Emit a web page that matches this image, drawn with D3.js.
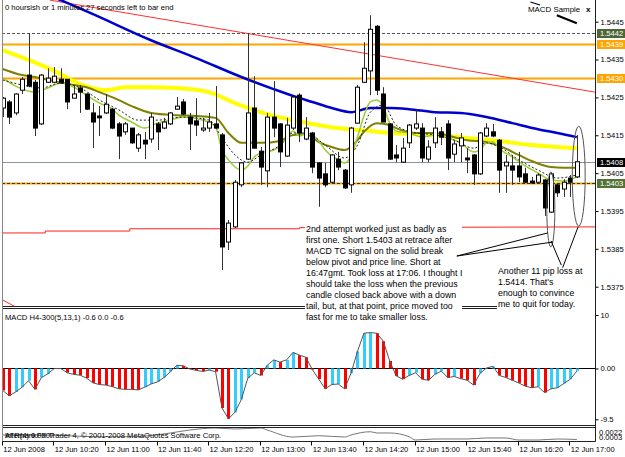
<!DOCTYPE html>
<html>
<head>
<meta charset="utf-8">
<script src="https://cdn.jsdelivr.net/npm/d3@7"></script>
<style>
  body { margin: 0; background: #fff; }
  text { font-family: "Liberation Sans", Arial, sans-serif; }
</style>
</head>
<body>
<svg id="chart" width="625" height="457"></svg>
<script>
// M5 bars, 12 Jun 09:40 .. 17:05, [open, high, low, close]
const candles = [
  [1.54222,1.54251,1.54198,1.54248],[1.54238,1.54243,1.54180,1.54198],[1.54209,1.54261,1.54203,1.54259],
  [1.54269,1.54304,1.54259,1.54298],[1.54309,1.54420,1.54277,1.54280],[1.54290,1.54296,1.54148,1.54169],
  [1.54180,1.54312,1.54177,1.54309],[1.54290,1.54327,1.54288,1.54301],[1.54290,1.54330,1.54288,1.54306],
  [1.54298,1.54327,1.54288,1.54288],[1.54298,1.54298,1.54219,1.54238],[1.54248,1.54283,1.54248,1.54259],
  [1.54275,1.54283,1.54209,1.54264],[1.54259,1.54261,1.54217,1.54219],[1.54209,1.54235,1.54116,1.54185],
  [1.54201,1.54227,1.54148,1.54196],[1.54209,1.54259,1.54206,1.54232],[1.54219,1.54222,1.54166,1.54169],
  [1.54180,1.54185,1.54087,1.54148],[1.54159,1.54185,1.54151,1.54180],[1.54169,1.54169,1.54127,1.54130],
  [1.54116,1.54156,1.54106,1.54151],[1.54137,1.54159,1.54087,1.54127],[1.54140,1.54209,1.54130,1.54198],
  [1.54180,1.54185,1.54111,1.54159],[1.54169,1.54196,1.54166,1.54185],[1.54180,1.54211,1.54177,1.54209],
  [1.54219,1.54251,1.54217,1.54227],[1.54238,1.54246,1.54203,1.54206],[1.54198,1.54209,1.54111,1.54180],
  [1.54188,1.54248,1.54148,1.54177],[1.54164,1.54196,1.54159,1.54169],[1.54169,1.54209,1.54159,1.54185],
  [1.54180,1.54280,1.54169,1.54169],[1.54151,1.54156,1.53794,1.53855],[1.53868,1.53926,1.53847,1.53918],
  [1.53908,1.54032,1.53905,1.54026],[1.54019,1.54079,1.54013,1.54077],[1.54087,1.54420,1.54085,1.54209],
  [1.54222,1.54306,1.54114,1.54116],[1.54108,1.54119,1.54019,1.54066],[1.54056,1.54209,1.54013,1.54198],
  [1.54198,1.54293,1.54145,1.54169],[1.54180,1.54182,1.54066,1.54106],[1.54095,1.54196,1.54093,1.54177],
  [1.54169,1.54254,1.54164,1.54251],[1.54256,1.54261,1.54132,1.54156],[1.54140,1.54198,1.54137,1.54169],
  [1.54156,1.54159,1.54050,1.54066],[1.54077,1.54079,1.53961,1.54037],[1.54048,1.54077,1.54013,1.54019],
  [1.54026,1.54100,1.54024,1.54098],[1.54087,1.54106,1.54058,1.54066],[1.54058,1.54061,1.54008,1.54011],
  [1.54019,1.54172,1.53998,1.54169],[1.54182,1.54283,1.54180,1.54277],[1.54290,1.54396,1.54288,1.54327],
  [1.54320,1.54467,1.54256,1.54430],[1.54438,1.54441,1.54256,1.54269],[1.54259,1.54277,1.54185,1.54185],
  [1.54180,1.54182,1.54085,1.54087],[1.54098,1.54124,1.54079,1.54090],[1.54079,1.54143,1.54077,1.54116],
  [1.54130,1.54180,1.54116,1.54177],[1.54169,1.54217,1.54164,1.54180],[1.54169,1.54182,1.54079,1.54090],
  [1.54087,1.54137,1.54079,1.54119],[1.54130,1.54198,1.54116,1.54169],[1.54159,1.54172,1.54124,1.54145],
  [1.54180,1.54190,1.54058,1.54090],[1.54100,1.54137,1.54079,1.54127],[1.54122,1.54156,1.54079,1.54143],
  [1.54090,1.54116,1.54050,1.54085],[1.54098,1.54100,1.54019,1.54048],[1.54048,1.54159,1.54045,1.54156],
  [1.54148,1.54182,1.54145,1.54169],[1.54159,1.54180,1.54145,1.54148],[1.54137,1.54140,1.53998,1.54058],
  [1.54069,1.54098,1.53998,1.54079],[1.54069,1.54098,1.54019,1.54058],[1.54069,1.54106,1.54026,1.54040],
  [1.54048,1.54064,1.54024,1.54026],[1.54029,1.54040,1.54021,1.54024],[1.54026,1.54050,1.54024,1.54045],
  [1.54032,1.54034,1.53937,1.53958],[1.53947,1.54053,1.53945,1.54048],[1.54019,1.54024,1.53987,1.53998],
  [1.54008,1.54034,1.53987,1.54026],[1.54037,1.54045,1.53987,1.54026],[1.54040,1.54151,1.54037,1.54080]
];

// moving averages, [bar, price]
const maBlue = [[0,1.5457],[9,1.54507],[14,1.5447],[23,1.54401],[30,1.54354],[37,1.54304],[42,1.54272],
  [45,1.54254],[48,1.54238],[51,1.54222],[54,1.54211],[57,1.54222],[60,1.54222],[63,1.54219],[67,1.54211],
  [71,1.54209],[75,1.54198],[79,1.54182],[83,1.54166],[86,1.54156],[89,1.54145]];
const maYellow = [[0,1.54375],[4,1.54349],[8,1.5432],[12,1.54285],[16,1.54269],[19,1.54277],[23,1.54277],
  [27,1.54275],[32,1.54264],[36,1.54235],[41,1.54206],[45,1.5419],[48,1.5418],[52,1.54169],[57,1.54161],
  [60,1.54156],[67,1.54151],[72,1.54143],[77,1.54135],[82,1.54124],[86,1.54119],[89,1.54116]];
const maOlive = [[0,1.54325],[3,1.54309],[5,1.54304],[8,1.54293],[11,1.54283],[13,1.54277],[15,1.54264],
  [18,1.54243],[20,1.54227],[23,1.54209],[27,1.54203],[30,1.54201],[33,1.54196],[35,1.54156],[37,1.5413],
  [40,1.5413],[43,1.54135],[45,1.54151],[47,1.54153],[49,1.54132],[51,1.54119],[53,1.54111],[55,1.54137],
  [56,1.54159],[58,1.54182],[60,1.54177],[61,1.54169],[64,1.54156],[67,1.54156],[70,1.54145],[72,1.54137],
  [75,1.54132],[77,1.54122],[80,1.54098],[82,1.54082],[85,1.54066],[87,1.54064],[89,1.54064]];
const maGreen = [[0,1.54301],[2,1.5428],[5,1.54264],[7,1.54275],[9,1.54288],[11,1.54277],[13,1.54256],
  [15,1.54235],[17,1.54219],[18,1.54203],[20,1.54185],[22,1.54169],[24,1.54182],[26,1.5419],[28,1.54198],
  [31,1.5419],[33,1.54172],[34,1.54111],[35,1.54085],[37,1.54058],[38,1.54069],[39,1.54093],[40,1.54103],
  [42,1.54111],[43,1.54122],[44,1.54143],[45,1.54161],[46,1.54148],[47,1.54156],[49,1.54135],[50,1.54111],
  [52,1.54085],[53,1.54077],[54,1.54095],[55,1.54145],[56,1.54201],[57,1.54238],[58,1.54243],[59,1.54225],
  [60,1.54182],[61,1.54161],[63,1.54156],[65,1.54145],[67,1.54151],[69,1.54143],[71,1.5413],[73,1.54106],
  [74,1.54111],[75,1.5413],[76,1.54132],[77,1.54114],[79,1.54093],[81,1.54069],[83,1.5405],[85,1.54032],
  [87,1.54029],[89,1.5404]];
const maDashed = [[0,1.54296],[3,1.54283],[6,1.54275],[9,1.54288],[12,1.54275],[15,1.54243],[18,1.54217],
  [21,1.5419],[24,1.5419],[28,1.54198],[32,1.5419],[34,1.54143],[36,1.54098],[38,1.54079],[40,1.54098],
  [43,1.54124],[45,1.54156],[47,1.54156],[50,1.54124],[53,1.5409],[55,1.54124],[57,1.54211],[59,1.5423],
  [61,1.54177],[64,1.54156],[67,1.54151],[70,1.54137],[73,1.54116],[75,1.5413],[77,1.54119],[80,1.54085],
  [83,1.54058],[86,1.54037],[89,1.54045]];

// horizontal price levels
const levelPrices = [1.5442, 1.5439, 1.5430, 1.5408, 1.54024];
const levelLabels = ['1.5442', '1.5439', '1.5430', '1.5408', '1.5403'];
const levelKinds  = ['dash', 'orange', 'orange', 'bid', 'orangeDash'];
const levelBoxes  = ['#4e6536', '#ffa500', '#ffa500', '#000000', '#557236'];

// drawn lines, [bar, price]
const trendRed = [[7.3,1.54507],[91.8,1.54264]];
const trendRedLow = [[0,1.53715],[4,1.53678]];
const pivotRed = [[0,1.53892],[6.6,1.53892],[6.6,1.53897],[19.7,1.53897],[19.7,1.53903],[46,1.53903],
  [46,1.53906],[92,1.53908]];
const sampleMarks = [[[81.8,1.54502],[83.3,1.54494]], [[85.9,1.54467],[89.0,1.54446]]];
const ellipses = [[84.35,85.6,1.53855,1.54053],[88.3,90.3,1.5391,1.54174]];
const arrows = [[[70.4,1.53831],[84.5,1.53892]], [[70.4,1.53831],[85.3,1.53868]],
  [[86.6,1.53807],[85.0,1.53871]], [[86.8,1.53800],[89.2,1.53908]]];

// MACD histogram values
const macd = [-4.1,-5.1,-4.4,-3.5,-2.3,-3.9,-1.7,-1.0,0.0,0.0,
  -0.8,-1.1,-1.25,-1.8,-2.7,-3.0,-3.1,-3.4,-3.8,-3.9,
  -3.9,-4.0,-3.5,-2.9,-2.5,-1.7,-0.6,0.6,0.5,-0.1,
  -0.35,-0.55,-0.3,-0.6,-7.4,-9.4,-8.2,-5.8,-1.8,-0.8,
  -1.3,0.6,1.6,1.2,1.6,3.0,2.5,2.1,-0.2,-2.0,
  -3.8,-3.0,-2.9,-3.8,-0.9,3.2,6.6,6.7,6.6,5.1,
  1.4,-1.4,-2.0,-1.3,-0.8,-2.0,-2.2,-1.1,-0.5,-1.7,
  -1.5,-1.9,-2.2,-3.1,-0.9,0.1,0.4,-1.3,-1.7,-2.2,
  -2.7,-3.3,-3.6,-3.4,-4.5,-3.8,-3.6,-2.8,-2.0,-0.5];

// third window indicator, [bar, value]
const atr = [[0,0.00109],[6,0.00109],[15,0.00082],[20,0.00082],[26,0.00141],[29,0.00188],[33,0.0022],
  [36,0.00204],[40,0.0022],[41,0.00188],[45,0.00077],[49,0.00098],[53,0.00077],[54,0.00109],[57,0.00161],
  [58,0.00141],[60,0.00141],[63,0.00082],[64,0.0003],[67,0.00046],[72,0.00046],[75,0.00062],[78,0.00062],
  [80,0.0003],[83,0.0003],[86,0.00046],[89,0.00038]];

const priceTicks = [1.5445, 1.5435, 1.5425, 1.5415, 1.5405, 1.5395, 1.5385, 1.5375];
const macdTicks = [10, 0, -9.5];
const macdTickText = ['10', '0.00', '-9.5'];
const atrTicks = [0.0022, 0.0003];
const timeBars = [0, 8, 16, 24, 32, 40, 48, 56, 64, 72, 80, 88];
const timeLabels = ['12 Jun 2008', '12 Jun 10:20', '12 Jun 11:00', '12 Jun 11:40', '12 Jun 12:20',
  '12 Jun 13:00', '12 Jun 13:40', '12 Jun 14:20', '12 Jun 15:00', '12 Jun 15:40', '12 Jun 16:20',
  '12 Jun 17:00'];

const note1 = ['2nd attempt worked just as badly as', 'first one.  Short 1.5403 at retrace after',
  'MACD TC signal on the solid break', 'below pivot and price line. Short at',
  '16:47gmt. Took loss at 17:06. I thought I', 'should take the loss when the previous',
  'candle closed back above with a down', 'tail, but, at that point, price moved too',
  'fast for me to take smaller loss.'];
const note2 = ['Another 11 pip loss at', '1.5414.  That\'s', 'enough to convince', 'me to quit for today.'];

const svg = d3.select('#chart');
const uiFont = 7.6;

const x = d3.scaleLinear().domain([0, 89]).range([2.7, 576.8]);
const y = d3.scaleLinear().domain([1.5375, 1.5445]).range([286.7, 21.7]);
const yM = d3.scaleLinear().domain([-9.5, 10]).range([419.3, 315]);
const yA = d3.scaleLinear().domain([0.0003, 0.0022]).range([440, 428]);

const defs = svg.append('defs');
defs.append('clipPath').attr('id', 'clipPrice')
    .append('rect').attr('x', 2).attr('y', 0).attr('width', 593).attr('height', 306);
defs.append('clipPath').attr('id', 'clipMacd')
    .append('rect').attr('x', 2).attr('y', 309).attr('width', 593).attr('height', 116);
defs.append('clipPath').attr('id', 'clipAtr')
    .append('rect').attr('x', 2).attr('y', 427).attr('width', 623).attr('height', 14);

const price = svg.append('g').attr('clip-path', 'url(#clipPrice)');

// levels
levelPrices.forEach((p, k) => {
  const kind = levelKinds[k];
  const yy = Math.round(y(p)) + 0.5;
  if (kind === 'orange' || kind === 'orangeDash') {
    price.append('line').attr('x1', 2).attr('x2', 595).attr('y1', yy).attr('y2', yy)
         .attr('stroke', '#ffa500').attr('stroke-width', 2);
  }
  if (kind === 'dash' || kind === 'orangeDash') {
    price.append('line').attr('x1', 2).attr('x2', 595).attr('y1', yy).attr('y2', yy)
         .attr('stroke', kind === 'dash' ? '#555' : '#333').attr('stroke-width', 1)
         .attr('stroke-dasharray', '3,2');
  }
  if (kind === 'bid') {
    price.append('line').attr('x1', 2).attr('x2', 595).attr('y1', yy).attr('y2', yy)
         .attr('stroke', '#8a95a0').attr('stroke-width', 1);
  }
});

const pline = d3.line().x(d => x(d[0])).y(d => y(d[1]));
const smooth = d3.line().x(d => x(d[0])).y(d => y(d[1])).curve(d3.curveMonotoneX);

price.append('path').attr('d', pline(trendRed)).attr('fill', 'none').attr('stroke', '#ff3030').attr('stroke-width', 1);
price.append('path').attr('d', pline(trendRedLow)).attr('fill', 'none').attr('stroke', '#ff3030').attr('stroke-width', 1);
price.append('path').attr('d', pline(pivotRed)).attr('fill', 'none').attr('stroke', '#ff2020').attr('stroke-width', 1);

// moving averages
price.append('path').attr('d', smooth(maYellow)).attr('fill', 'none').attr('stroke', '#ffff00').attr('stroke-width', 4);
price.append('path').attr('d', smooth(maBlue)).attr('fill', 'none').attr('stroke', '#0000cd').attr('stroke-width', 2.5);
price.append('path').attr('d', smooth(maOlive)).attr('fill', 'none').attr('stroke', '#808000').attr('stroke-width', 2);
price.append('path').attr('d', smooth(maGreen)).attr('fill', 'none').attr('stroke', '#9acd32').attr('stroke-width', 1.5);
price.append('path').attr('d', smooth(maDashed)).attr('fill', 'none').attr('stroke', '#222').attr('stroke-width', 1)
     .attr('stroke-dasharray', '2,2');

// candles
const candle = price.selectAll('.candle').data(candles).enter()
  .append('g').attr('class', 'candle');
candle.append('line')
  .attr('x1', (d, i) => Math.round(x(i)) + 0.5).attr('x2', (d, i) => Math.round(x(i)) + 0.5)
  .attr('y1', d => y(d[1])).attr('y2', d => y(d[2]))
  .attr('stroke', '#333').attr('stroke-width', 1);
candle.append('rect')
  .attr('x', (d, i) => Math.round(x(i)) - 1.5)
  .attr('width', 4)
  .attr('y', d => y(Math.max(d[0], d[3])))
  .attr('height', d => Math.max(1, y(Math.min(d[0], d[3])) - y(Math.max(d[0], d[3]))))
  .attr('fill', d => d[3] >= d[0] ? '#fff' : '#000')
  .attr('stroke', '#000').attr('stroke-width', 1);

// drawn objects
sampleMarks.forEach((m, k) => {
  svg.append('path').attr('d', pline(m)).attr('stroke', '#000').attr('stroke-width', k ? 2 : 1.2);
});
ellipses.forEach(e => {
  const cx = (x(e[0]) + x(e[1])) / 2, cy = (y(e[2]) + y(e[3])) / 2;
  price.append('ellipse').attr('cx', cx).attr('cy', cy)
       .attr('rx', (x(e[1]) - x(e[0])) / 2).attr('ry', (y(e[2]) - y(e[3])) / 2)
       .attr('fill', 'none').attr('stroke', '#555').attr('stroke-width', 1);
});

// MACD window
const macdG = svg.append('g').attr('clip-path', 'url(#clipMacd)');
macdG.append('line').attr('x1', 2).attr('x2', 595).attr('y1', Math.round(yM(0)) + 0.5).attr('y2', Math.round(yM(0)) + 0.5)
     .attr('stroke', '#000').attr('stroke-width', 1);
macdG.selectAll('.hist').data(macd).enter().append('rect').attr('class', 'hist')
     .attr('x', (d, i) => Math.round(x(i)) - 1)
     .attr('width', 3)
     .attr('y', d => Math.min(yM(d), yM(0)))
     .attr('height', d => Math.abs(yM(d) - yM(0)))
     .attr('fill', (d, i) => (i > 0 && d > macd[i - 1]) ? '#33ccff' : '#ff0000');
macdG.append('path')
     .attr('d', d3.line().x((d, i) => x(i)).y(d => yM(d))(macd))
     .attr('fill', 'none').attr('stroke', '#555').attr('stroke-width', 1);

// third window
const atrG = svg.append('g').attr('clip-path', 'url(#clipAtr)');
atrG.append('path')
    .attr('d', d3.line().x(d => x(d[0])).y(d => yA(d[1])).curve(d3.curveMonotoneX)(atr))
    .attr('fill', 'none').attr('stroke', '#777').attr('stroke-width', 1);
atrG.append('text').attr('x', 5).attr('y', 438).attr('font-size', uiFont).attr('fill', '#000')
    .text('ATR(4) 0.0007');
atrG.append('text').attr('x', 5).attr('y', 438).attr('font-size', uiFont).attr('fill', '#000')
    .text('InterbankFX Trader 4, \u00a9 2001-2008 MetaQuotes Software Corp.');
atrG.selectAll('.atrTick').data(atrTicks).enter().append('text')
    .attr('x', 599).attr('y', (d, k) => k ? 440 : 434.5)
    .attr('font-size', uiFont).text(d => d.toFixed(4));

// frame lines
const frame = svg.append('g').attr('stroke', '#222').attr('stroke-width', 1);
[306.5, 308.5, 425.5, 427.5, 441.5].forEach(v => {
  frame.append('line').attr('x1', 2).attr('x2', 595.5).attr('y1', v).attr('y2', v);
});
frame.append('line').attr('x1', 595.5).attr('x2', 595.5).attr('y1', 0).attr('y2', 441.5);
svg.append('line').attr('x1', 2.5).attr('x2', 2.5).attr('y1', 0).attr('y2', 441.5)
   .attr('stroke', '#888').attr('stroke-width', 1);

// price axis
const pAxis = svg.append('g').attr('transform', 'translate(595.5,0)')
  .call(d3.axisRight(y).tickValues(priceTicks).tickSize(3).tickFormat(d3.format('.4f')));
pAxis.select('.domain').remove();
pAxis.selectAll('text').attr('font-size', uiFont).attr('font-family', '"Liberation Sans", Arial').attr('x', 5);

// level boxes on the axis
levelPrices.forEach((p, k) => {
  const yy = Math.round(y(p)) + 0.5;
  svg.append('rect').attr('x', 597).attr('y', yy - 4.5).attr('width', 28).attr('height', 9)
     .attr('fill', levelBoxes[k]);
  svg.append('text').attr('x', 600).attr('y', yy).attr('dy', '0.34em').attr('font-size', uiFont)
     .attr('fill', '#fff').text(levelLabels[k]);
});

// MACD axis
const mAxis = svg.append('g').attr('transform', 'translate(595.5,0)')
  .call(d3.axisRight(yM).tickValues(macdTicks).tickSize(3).tickFormat((d, k) => macdTickText[k]));
mAxis.select('.domain').remove();
mAxis.selectAll('text').attr('font-size', uiFont).attr('font-family', '"Liberation Sans", Arial').attr('x', 5);

// time axis
const tAxis = svg.append('g').attr('transform', 'translate(0,441.5)');
tAxis.selectAll('line').data(timeBars).enter().append('line')
     .attr('x1', d => Math.round(x(d)) - 0.5).attr('x2', d => Math.round(x(d)) - 0.5)
     .attr('y1', 0).attr('y2', 4).attr('stroke', '#000');
tAxis.selectAll('text').data(timeBars).enter().append('text')
     .attr('x', d => x(d) + 0.5).attr('y', 10.5).attr('font-size', uiFont)
     .text((d, k) => timeLabels[k]);

// labels
svg.append('text').attr('x', 5).attr('y', 9.5).attr('font-size', uiFont).text('0 hoursish or 1 minutes 27 seconds left to bar end');
svg.append('text').attr('x', 528).attr('y', 12).attr('font-size', 7.9).text('MACD Sample');
svg.append('text').attr('x', 586).attr('y', 12).attr('font-size', 8).attr('font-weight', 'bold').text('x');
svg.append('text').attr('x', 5).attr('y', 320).attr('font-size', uiFont).text('MACD H4-300(5,13,1) -0.6 0.0 -0.6');

// annotation notes with white backing
function note(lines, bx, by, bw, bh, tx, ty) {
  svg.append('rect').attr('x', bx).attr('y', by).attr('width', bw).attr('height', bh).attr('fill', '#fff');
  svg.append('g').selectAll('text').data(lines).enter().append('text')
     .attr('x', tx).attr('y', (d, k) => ty + k * 11).attr('font-size', 8.8).attr('fill', '#000')
     .text(d => d);
}
note(note1, 305, 222, 157, 101, 306, 231.5);
note(note2, 497, 265, 98, 46, 498, 274);

arrows.forEach(a => {
  svg.append('path').attr('d', pline(a)).attr('stroke', '#000').attr('stroke-width', 1);
});
</script>
</body>
</html>
